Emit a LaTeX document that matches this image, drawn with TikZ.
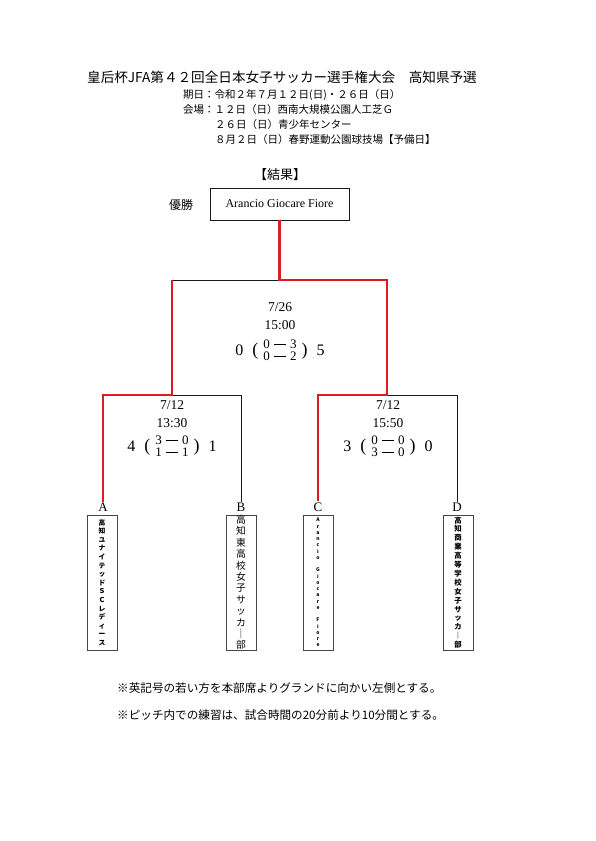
\documentclass[tikz,border=0pt]{standalone}
\usepackage{fontspec}
\setmainfont{Liberation Serif}
\newfontfamily\jpfont{Noto Sans CJK JP}
\usepackage{tikz}
\usetikzlibrary{positioning}
\definecolor{winred}{RGB}{218,28,36}
\definecolor{linedark}{RGB}{25,25,25}
\definecolor{boxgray}{RGB}{70,70,70}
\newcommand{\dashbar}{\rule[0.3em]{0.95em}{0.5pt}}
\newcommand{\bigparen}[1]{{\fontsize{18}{18}\selectfont #1}}
\newcommand{\scoreline}[6]{#1\hspace{9pt}\bigparen{(}\hspace{5pt}{\fontsize{13}{12.5}\selectfont\begin{tabular}{@{}c@{}}#2\hspace{4pt}\dashbar\hspace{4pt}#3\\#4\hspace{4pt}\dashbar\hspace{4pt}#5\end{tabular}}\hspace{5pt}\bigparen{)}\hspace{9pt}#6}
\tikzset{
  teambox/.style={rectangle, draw=boxgray, line width=0.9pt,
    minimum width=30, minimum height=135, align=center, inner sep=0pt},
  letter/.style={font=\fontsize{13}{13}\selectfont, inner sep=1pt},
  matchinfo/.style={font=\fontsize{13.5}{13.5}\selectfont, inner sep=1pt},
  scoreinfo/.style={font=\fontsize{16}{16}\selectfont, inner sep=1pt},
  headline/.style={font=\jpfont\fontsize{10.5}{10.5}\selectfont, anchor=west, inner sep=0pt},
  noteline/.style={font=\jpfont\fontsize{11.6}{11.6}\selectfont, anchor=west, inner sep=0pt},
  winline/.style={draw=winred, line width=2.6pt},
  loseline/.style={draw=linedark, line width=0.8pt}
}

\begin{document}
\begin{tikzpicture}[x=1pt, y=-1pt]
  \useasboundingbox (0,0) rectangle (595,841);

  % Header
  \node[font=\jpfont\fontsize{13.6}{13.6}\selectfont, inner sep=0pt] (title) at (282,77) {皇后杯JFA第４２回全日本女子サッカー選手権大会　高知県予選};
  \node[headline] (date) at (183,95) {期日：令和２年７月１２日(日)・２６日（日）};
  \node[headline] (venue) at (183,110) {会場：１２日（日）西南大規模公園人工芝Ｇ};
  \node[headline] (venue2) at (215,125) {２６日（日）青少年センター};
  \node[headline] (venue3) at (215,140) {８月２日（日）春野運動公園球技場【予備日】};

  % Result and champion
  \node[font=\jpfont\fontsize{13}{13}\selectfont, inner sep=0pt] (result) at (280,175) {【結果】};
  \node[draw=linedark, line width=0.8pt, minimum width=139, minimum height=32, font=\fontsize{12}{12}\selectfont] (champ) at (279.5,204) {Arancio Giocare Fiore};
  \node[font=\jpfont\fontsize{12}{12}\selectfont, inner sep=0pt] (yusho) at (181,205) {優勝};

  % Bracket junctions
  \coordinate (fL) at (172,280);
  \coordinate (fM) at (279.5,280);
  \coordinate (fR) at (387,280);
  \coordinate (sLa) at (103,395);
  \coordinate (sLm) at (172,395);
  \coordinate (sLb) at (241,395);
  \coordinate (sRc) at (318,395);
  \coordinate (sRm) at (387,395);
  \coordinate (sRd) at (457,395);

  % Team letters
  \node[letter] (A) at (103,507) {A};
  \node[letter] (B) at (241,507) {B};
  \node[letter] (C) at (318,507) {C};
  \node[letter] (D) at (457,507) {D};

  % Team boxes
  \node[teambox, font=\jpfont\bfseries\fontsize{6.8}{8.6}\selectfont] (teamA) at (102,582.5) {高\\知\\ユ\\ナ\\イ\\テ\\ッ\\ド\\Ｓ\\Ｃ\\レ\\デ\\ィ\\ー\\ス};
  \node[teambox, font=\jpfont\fontsize{9.8}{11.4}\selectfont] (teamB) at (241,582.5) {高\\知\\東\\高\\校\\女\\子\\サ\\ッ\\カ\\｜\\部};
  \node[teambox, font=\jpfont\bfseries\fontsize{5}{6.25}\selectfont] (teamC) at (318,582.5) {A\\r\\a\\n\\c\\i\\o\\\mbox{}\\G\\i\\o\\c\\a\\r\\e\\\mbox{}\\F\\i\\o\\r\\e};
  \node[teambox, font=\jpfont\bfseries\fontsize{7.4}{8.9}\selectfont] (teamD) at (458,582.5) {高\\知\\商\\業\\高\\等\\学\\校\\女\\子\\サ\\ッ\\カ\\｜\\部};

  % Losing paths
  \draw[loseline] (fL) -- (fM);
  \draw[loseline] (sLm) -- (sLb) -- (B.north);
  \draw[loseline] (sRm) -- (sRd) -- (D.north);

  % Winning paths
  \draw[winline] (A.north) -- (sLa) -- (sLm) -- (fL);
  \draw[winline] (champ.south) -- (fM) -- (fR) -- (sRm) -- (sRc) -- (C.north);

  % Final
  \node[matchinfo] (fdate) at (280,307) {7/26};
  \node[matchinfo] (ftime) at (280,325) {15:00};
  \node[scoreinfo] (fscore) at (280,352) {\scoreline{0}{0}{3}{0}{2}{5}};

  % Semi-finals
  \node[matchinfo] (ldate) at (172,405) {7/12};
  \node[matchinfo] (ltime) at (172,423) {13:30};
  \node[scoreinfo] (lscore) at (172,448) {\scoreline{4}{3}{0}{1}{1}{1}};
  \node[matchinfo] (rdate) at (388,405) {7/12};
  \node[matchinfo] (rtime) at (388,423) {15:50};
  \node[scoreinfo] (rscore) at (388,448) {\scoreline{3}{0}{0}{3}{0}{0}};

  % Notes
  \node[noteline] (note1) at (117,688) {※英記号の若い方を本部席よりグランドに向かい左側とする。};
  \node[noteline] (note2) at (117,715) {※ピッチ内での練習は、試合時間の20分前より10分間とする。};
\end{tikzpicture}
\end{document}
